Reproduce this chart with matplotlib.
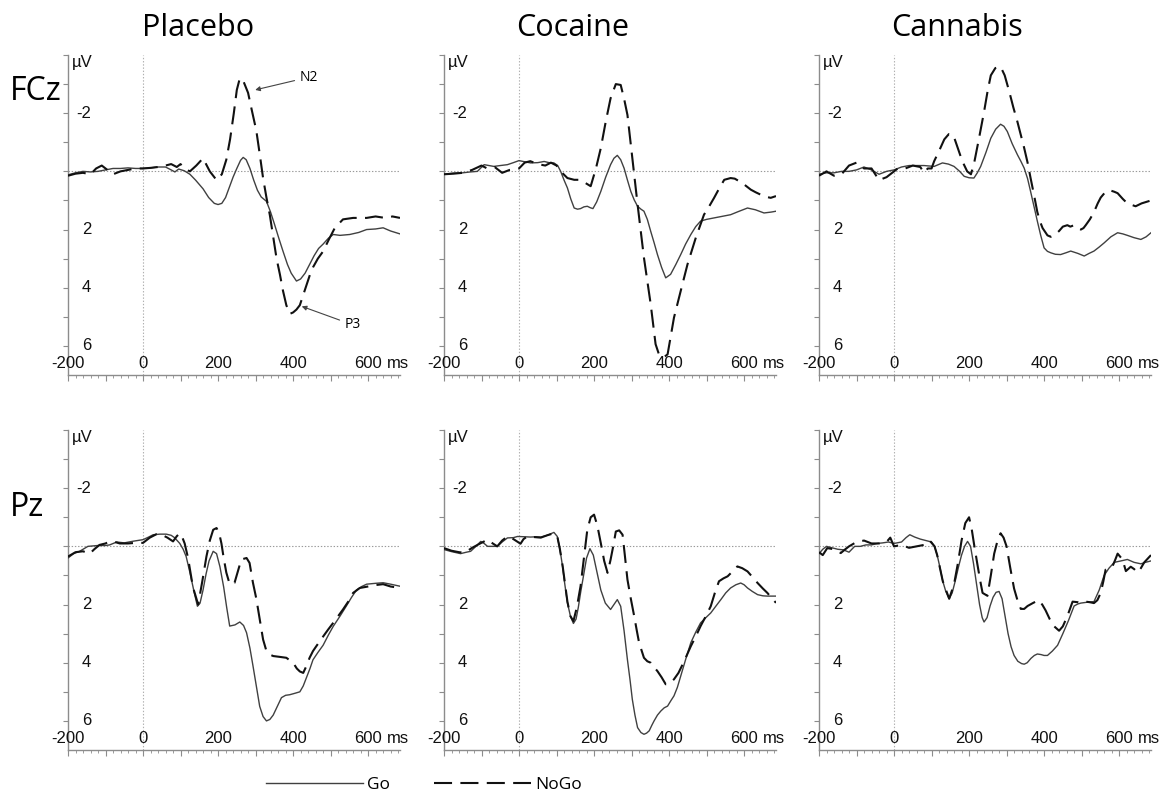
import matplotlib
matplotlib.use("Agg")
import matplotlib.pyplot as plt
import matplotlib.transforms as mtransforms
import numpy as np

# ---------------- data (time in ms, amplitude in µV; negative plotted up) ----------------
COLUMNS = ["Placebo", "Cocaine", "Cannabis"]
ROWS = ["FCz", "Pz"]
X_TICK_VALUES = [-200, 0, 200, 400, 600]
X_TICK_LABELS = ["-200", "0", "200", "400", "600"]
X_UNIT = "ms"
Y_TICK_VALUES = [-2, 2, 4, 6]
Y_TICK_LABELS = ["-2", "2", "4", "6"]
Y_UNIT = "µV"
LEGEND_LABELS = ["Go", "NoGo"]

FCZ_PLACEBO_GO = [(-200,0.12),(-180,0.05),(-160,0.0),(-140,0.02),(-120,0.0),(-100,-0.05),(-80,-0.1),(-60,-0.1),
    (-40,-0.12),(-20,-0.1),(0,-0.1),(20,-0.12),(40,-0.15),(60,-0.15),(75,-0.05),(85,0.02),(95,-0.08),(110,-0.02),
    (125,0.1),(140,0.3),(160,0.6),(175,0.9),(190,1.1),(200,1.14),(210,1.1),(220,0.9),(230,0.55),(240,0.2),(250,-0.1),
    (260,-0.38),(267,-0.48),(275,-0.4),(285,-0.1),(295,0.3),(305,0.65),(315,0.88),(329,1.03),(340,1.4),(350,1.8),
    (362,2.3),(373,2.74),(385,3.2),(395,3.5),(409,3.77),(420,3.7),(432,3.5),(444,3.2),(456,2.9),(468,2.65),(480,2.5),
    (494,2.3),(507,2.17),(525,2.2),(551,2.17),(575,2.1),(596,2.0),(620,1.98),(640,1.94),(660,2.05),(685,2.15)]
FCZ_PLACEBO_NOGO = [(-200,0.15),(-180,0.08),(-160,0.05),(-140,0.1),(-125,-0.1),(-110,-0.2),(-95,-0.05),(-80,0.1),
    (-60,0.0),(-40,-0.05),(-20,-0.1),(0,-0.1),(20,-0.12),(40,-0.15),(60,-0.2),(75,-0.25),(90,-0.15),(100,-0.25),
    (110,-0.1),(125,0.0),(142,-0.2),(160,-0.45),(178,0.0),(196,0.3),(210,0.1),(222,-0.4),(232,-1.1),(242,-2.0),
    (250,-2.8),(258,-3.2),(266,-3.15),(280,-2.7),(290,-2.1),(302,-1.4),(311,-0.6),(320,0.23),(329,0.9),(338,1.5),
    (347,2.25),(356,3.0),(365,3.55),(373,4.1),(382,4.6),(391,4.9),(400,4.85),(409,4.75),(418,4.6),(427,4.25),
    (436,3.9),(445,3.55),(453,3.3),(466,3.0),(480,2.75),(495,2.35),(511,1.95),(522,1.8),(533,1.65),(560,1.6),
    (596,1.6),(620,1.55),(645,1.6),(665,1.55),(685,1.6)]

FCZ_COCAINE_GO = [(-200,0.1),(-175,0.06),(-150,0.05),(-130,0.02),(-111,0.0),(-93,-0.23),(-80,-0.2),(-67,-0.17),
    (-50,-0.2),(-31,-0.23),(-15,-0.3),(0,-0.37),(15,-0.33),(31,-0.29),(50,-0.3),(67,-0.34),(80,-0.3),(93,-0.29),
    (103,-0.2),(111,0.0),(120,0.3),(129,0.57),(138,0.95),(147,1.26),(156,1.3),(164,1.28),(173,1.22),(182,1.2),
    (190,1.25),(197,1.28),(207,1.05),(218,0.69),(231,0.2),(244,-0.23),(253,-0.45),(262,-0.55),(271,-0.4),(280,-0.11),
    (289,0.3),(298,0.69),(307,0.98),(316,1.2),(325,1.3),(333,1.37),(342,1.65),(351,2.06),(360,2.45),(369,2.86),
    (380,3.3),(391,3.66),(404,3.54),(418,3.2),(431,2.86),(444,2.5),(458,2.17),(471,1.9),(484,1.71),(500,1.65),
    (520,1.6),(540,1.55),(564,1.49),(585,1.38),(609,1.26),(630,1.32),(653,1.43),(672,1.4),(685,1.37)]
FCZ_COCAINE_NOGO = [(-200,0.1),(-175,0.08),(-150,0.05),(-125,-0.05),(-100,-0.2),(-85,-0.1),(-65,-0.15),(-45,0.05),
    (-25,-0.05),(0,-0.1),(15,-0.3),(30,-0.35),(50,-0.25),(70,-0.2),(85,-0.3),(100,-0.2),(111,0.0),(129,0.23),
    (147,0.29),(162,0.29),(177,0.4),(191,0.51),(205,-0.1),(218,-0.8),(231,-1.7),(244,-2.51),(258,-3.0),(271,-2.97),
    (280,-2.5),(289,-1.94),(302,-0.46),(316,1.14),(333,2.97),(351,4.57),(364,5.94),(373,6.29),(385,6.4),(396,6.29),
    (404,5.7),(413,5.03),(431,4.11),(449,3.2),(471,2.29),(493,1.49),(507,1.2),(520,0.91),(533,0.6),(547,0.29),
    (564,0.23),(575,0.25),(587,0.34),(600,0.45),(618,0.63),(631,0.72),(644,0.8),(660,0.88),(671,0.91),(685,0.85)]

FCZ_CANNABIS_GO = [(-200,0.1),(-180,0.05),(-160,0.05),(-140,0.0),(-120,0.0),(-100,-0.05),(-80,-0.15),(-60,-0.05),
    (-40,0.1),(-20,0.0),(0,-0.05),(20,-0.15),(40,-0.2),(60,-0.2),(80,-0.2),(107,-0.17),(129,-0.29),(145,-0.25),
    (160,-0.17),(175,0.0),(187,0.17),(200,0.22),(213,0.23),(222,0.05),(231,-0.17),(245,-0.65),(258,-1.14),
    (271,-1.45),(284,-1.62),(293,-1.55),(302,-1.37),(315,-0.95),(329,-0.57),(338,-0.35),(347,-0.11),(356,0.25),
    (364,0.69),(373,1.2),(382,1.71),(391,2.2),(400,2.63),(409,2.75),(418,2.8),(430,2.85),(444,2.86),(458,2.8),
    (471,2.74),(490,2.82),(507,2.91),(520,2.82),(533,2.74),(547,2.6),(560,2.46),(578,2.25),(596,2.11),(610,2.15),
    (622,2.2),(640,2.28),(658,2.34),(672,2.25),(685,2.11)]
FCZ_CANNABIS_NOGO = [(-200,0.15),(-180,0.0),(-160,0.15),(-140,0.1),(-120,-0.2),(-100,-0.3),(-80,-0.1),(-60,-0.1),
    (-40,0.3),(-20,0.2),(0,0.0),(10,-0.1),(30,-0.1),(50,-0.2),(70,-0.15),(80,0.05),(90,-0.1),(100,-0.1),
    (107,-0.35),(120,-0.7),(134,-1.1),(146,-1.28),(158,-1.25),(170,-0.8),(182,-0.35),(195,0.0),(205,0.1),
    (213,-0.25),(226,-1.1),(240,-2.05),(250,-2.8),(258,-3.3),(270,-3.55),(284,-3.6),(295,-3.3),(307,-2.75),
    (318,-2.2),(329,-1.7),(338,-1.25),(347,-0.8),(356,-0.3),(364,0.23),(373,0.8),(382,1.4),(390,1.75),(396,1.95),
    (409,2.2),(418,2.25),(427,2.2),(440,2.05),(450,1.9),(462,1.85),(470,1.9),(480,1.85),(490,1.95),(498,2.0),
    (505,1.95),(511,1.85),(522,1.65),(533,1.4),(543,1.1),(551,0.9),(564,0.7),(575,0.65),(587,0.7),(596,0.75),
    (610,0.95),(622,1.1),(644,1.2),(660,1.1),(685,1.0)]

PZ_PLACEBO_GO = [(-200,0.4),(-185,0.25),(-169,0.17),(-147,0.0),(-120,-0.03),(-100,-0.03),(-89,-0.05),(-70,-0.15),
    (-50,-0.12),(-25,-0.18),(0,-0.23),(15,-0.32),(27,-0.4),(45,-0.42),(62,-0.42),(75,-0.38),(84,-0.3),(98,-0.1),
    (107,0.1),(115,0.35),(125,0.9),(135,1.5),(145,2.06),(152,1.95),(160,1.5),(168,0.95),(176,0.5),(187,0.17),
    (196,0.25),(205,0.7),(215,1.4),(223,2.1),(231,2.74),(245,2.7),(258,2.6),(268,2.72),(276,2.97),(285,3.5),
    (293,4.1),(302,4.8),(311,5.5),(320,5.85),(329,6.0),(338,5.95),(347,5.8),(358,5.5),(369,5.2),(380,5.12),
    (391,5.1),(405,5.05),(418,5.0),(427,4.8),(436,4.5),(445,4.2),(453,3.9),(466,3.65),(480,3.4),(494,3.05),
    (507,2.75),(525,2.4),(542,2.05),(556,1.75),(569,1.5),(583,1.38),(596,1.3),(620,1.27),(640,1.25),(660,1.3),
    (685,1.37)]
PZ_PLACEBO_NOGO = [(-200,0.35),(-180,0.2),(-160,0.17),(-142,0.25),(-130,0.1),(-116,-0.05),(-100,-0.1),(-89,-0.17),
    (-75,-0.15),(-62,-0.1),(-40,-0.1),(-20,-0.12),(0,-0.12),(18,-0.3),(36,-0.42),(50,-0.4),(65,-0.3),(80,-0.17),
    (90,-0.35),(98,-0.45),(105,-0.3),(111,-0.1),(120,0.4),(133,1.4),(147,2.0),(158,1.2),(169,0.35),(178,-0.2),
    (187,-0.57),(196,-0.63),(203,-0.45),(209,-0.1),(215,0.4),(222,0.9),(231,1.3),(244,1.25),(253,0.85),(262,0.45),
    (276,0.4),(284,0.57),(293,1.25),(302,1.8),(311,2.5),(320,3.2),(329,3.6),(338,3.72),(347,3.77),(365,3.8),
    (382,3.83),(400,4.0),(410,4.2),(418,4.3),(427,4.35),(436,4.1),(444,3.83),(453,3.6),(462,3.43),(480,3.1),
    (494,2.85),(507,2.63),(520,2.4),(533,2.17),(547,1.9),(560,1.6),(578,1.43),(604,1.37),(620,1.33),(640,1.3),
    (660,1.38),(685,1.43)]

PZ_COCAINE_GO = [(-200,0.11),(-180,0.18),(-156,0.25),(-140,0.2),(-129,0.17),(-115,0.0),(-102,-0.17),(-93,-0.1),
    (-84,0.0),(-70,0.0),(-58,0.0),(-45,-0.15),(-31,-0.29),(-15,-0.3),(-4,-0.34),(15,-0.33),(31,-0.32),(45,-0.33),
    (58,-0.32),(75,-0.38),(93,-0.48),(102,-0.34),(109,0.1),(116,0.69),(122,1.3),(129,1.94),(137,2.4),(145,2.65),
    (152,2.5),(158,2.1),(164,1.6),(172,1.0),(180,0.4),(189,0.08),(198,0.3),(208,0.9),(218,1.5),(230,1.95),
    (244,2.17),(253,2.0),(262,1.83),(271,2.06),(280,2.9),(289,3.9),(296,4.6),(302,5.26),(309,5.8),(316,6.23),
    (325,6.4),(333,6.46),(340,6.42),(347,6.34),(354,6.15),(360,6.0),(369,5.8),(378,5.66),(387,5.55),(396,5.49),
    (405,5.3),(413,5.14),(422,4.85),(431,4.46),(445,3.85),(458,3.31),(471,2.95),(484,2.63),(498,2.45),(511,2.29),
    (525,2.05),(538,1.83),(551,1.6),(564,1.43),(578,1.32),(591,1.26),(600,1.32),(609,1.43),(622,1.55),(636,1.66),
    (650,1.7),(662,1.71),(685,1.71)]
PZ_COCAINE_NOGO = [(-200,0.06),(-180,0.15),(-160,0.2),(-145,0.22),(-125,0.05),(-102,-0.11),(-84,-0.23),(-70,-0.1),
    (-58,0.0),(-45,-0.2),(-31,-0.34),(-15,-0.25),(4,-0.09),(12,-0.25),(22,-0.34),(40,-0.32),(58,-0.3),(75,-0.38),
    (93,-0.45),(102,-0.34),(109,0.1),(116,0.65),(129,1.9),(137,2.4),(145,2.57),(154,2.1),(164,1.37),(173,0.4),
    (182,-0.57),(191,-1.0),(200,-1.09),(209,-0.7),(218,-0.11),(227,0.5),(236,0.91),(244,0.46),(251,0.0),
    (258,-0.51),(267,-0.55),(276,-0.4),(282,0.3),(289,1.14),(298,1.8),(307,2.4),(314,2.9),(320,3.31),(333,3.83),
    (342,3.95),(351,4.0),(360,4.15),(369,4.29),(380,4.5),(391,4.74),(402,4.7),(413,4.57),(425,4.35),(436,4.06),
    (447,3.75),(458,3.43),(471,3.1),(484,2.74),(498,2.4),(511,2.06),(522,1.6),(533,1.2),(545,1.1),(556,1.03),
    (570,0.85),(582,0.69),(595,0.75),(609,0.86),(622,1.05),(636,1.26),(650,1.45),(662,1.6),(675,1.8),(685,1.94)]

PZ_CANNABIS_GO = [(-200,0.25),(-190,0.1),(-180,0.0),(-165,0.05),(-150,0.1),(-135,0.12),(-120,0.2),(-105,0.0),
    (-90,0.0),(-75,-0.05),(-60,-0.05),(-45,-0.1),(-30,-0.12),(-15,-0.15),(0,-0.1),(20,-0.15),(32,-0.3),(42,-0.4),
    (55,-0.32),(70,-0.25),(85,-0.2),(100,-0.15),(108,0.0),(115,0.3),(122,0.7),(130,1.2),(138,1.55),(147,1.8),
    (155,1.6),(163,1.2),(172,0.7),(180,0.3),(188,0.0),(196,-0.17),(204,0.0),(212,0.6),(220,1.3),(228,2.0),
    (235,2.45),(240,2.6),(248,2.45),(256,2.05),(264,1.75),(272,1.58),(280,1.55),(288,1.8),(296,2.4),(304,3.0),
    (312,3.45),(320,3.75),(330,3.95),(340,4.03),(347,4.05),(355,4.0),(365,3.85),(374,3.75),(382,3.7),(392,3.72),
    (400,3.75),(409,3.75),(422,3.6),(436,3.4),(450,3.0),(465,2.55),(480,2.05),(490,1.98),(498,1.95),(515,1.92),
    (533,1.9),(547,1.5),(560,1.0),(573,0.75),(587,0.55),(605,0.5),(622,0.45),(640,0.55),(658,0.6),(670,0.55),
    (685,0.5)]
PZ_CANNABIS_NOGO = [(-200,0.2),(-190,0.3),(-178,0.06),(-160,0.1),(-142,0.23),(-130,0.1),(-120,0.0),(-100,-0.15),
    (-80,-0.2),(-60,-0.1),(-40,-0.1),(-20,-0.15),(-10,-0.3),(0,0.0),(20,-0.05),(40,0.05),(60,0.0),(80,-0.05),
    (95,-0.2),(108,0.0),(115,0.3),(130,1.2),(147,1.8),(160,1.3),(170,0.6),(180,-0.2),(190,-0.8),(200,-1.0),
    (207,-0.6),(213,-0.1),(222,0.6),(230,1.2),(236,1.6),(249,1.7),(258,1.0),(267,0.25),(276,-0.2),(284,-0.45),
    (292,-0.3),(300,0.0),(310,0.75),(320,1.45),(329,1.85),(338,2.15),(347,2.15),(356,2.05),(370,1.95),(385,1.85),
    (395,2.0),(404,2.2),(415,2.5),(427,2.75),(440,2.9),(450,2.75),(462,2.4),(476,1.9),(490,1.92),(498,1.95),
    (511,1.9),(522,1.92),(533,1.95),(542,1.85),(551,1.6),(558,1.2),(564,0.8),(573,0.72),(582,0.7),(590,0.45),
    (596,0.25),(609,0.45),(618,0.85),(631,0.7),(640,0.78),(649,0.9),(658,0.75),(667,0.55),(685,0.3)]

SERIES = {
    ("FCz", "Placebo"): (FCZ_PLACEBO_GO, FCZ_PLACEBO_NOGO),
    ("FCz", "Cocaine"): (FCZ_COCAINE_GO, FCZ_COCAINE_NOGO),
    ("FCz", "Cannabis"): (FCZ_CANNABIS_GO, FCZ_CANNABIS_NOGO),
    ("Pz", "Placebo"): (PZ_PLACEBO_GO, PZ_PLACEBO_NOGO),
    ("Pz", "Cocaine"): (PZ_COCAINE_GO, PZ_COCAINE_NOGO),
    ("Pz", "Cannabis"): (PZ_CANNABIS_GO, PZ_CANNABIS_NOGO),
}

# ---------------- layout / style ----------------
W, H = 1163, 796
plt.rcParams["lines.scale_dashes"] = False
fig = plt.figure(figsize=(W / 100, H / 100), dpi=100)

XLIM = (-200, 685)
YLIM = (-4, 7)
COL_LEFT = [68, 444, 819]
AX_W = 332
ROW_BOX = {"FCz": (55, 375), "Pz": (430, 750)}
AXIS_COLOR = "#8c8c8c"
GO_COLOR = "#404040"
NOGO_COLOR = "#111111"
NOGO_DASH = (0, (13, 6))
TICK_FONT = "Liberation Sans"
LABEL_FONT = "Open Sans"
TICK_SIZE = 12

go_handle = nogo_handle = None
axes = {}
for row in ROWS:
    top, bot = ROW_BOX[row]
    for ci, col in enumerate(COLUMNS):
        ax = fig.add_axes([COL_LEFT[ci] / W, (H - bot) / H, AX_W / W, (bot - top) / H])
        axes[(row, col)] = ax
        ax.set_xlim(*XLIM)
        ax.set_ylim(YLIM[1], YLIM[0])
        ax.patch.set_alpha(0)
        for s in ("top", "right"):
            ax.spines[s].set_visible(False)
        for s in ("left", "bottom"):
            ax.spines[s].set_color(AXIS_COLOR)
            ax.spines[s].set_linewidth(1.0)
        ax.set_yticks(np.arange(-4, 7, 1))
        ax.set_yticklabels([])
        ax.set_xticks(np.arange(-200, 686, 100))
        ax.set_xticks(np.arange(-200, 686, 20), minor=True)
        ax.set_xticklabels([])
        ax.tick_params(axis="y", direction="out", length=3.5, width=0.8, color=AXIS_COLOR)
        ax.tick_params(axis="x", which="major", direction="out", length=4, width=0.8, color=AXIS_COLOR)
        ax.tick_params(axis="x", which="minor", direction="out", length=2.2, width=0.6, color=AXIS_COLOR)

        ax.axhline(0, color="#9a9a9a", lw=0.8, ls=(0, (1, 1.3)), zorder=1)
        ax.axvline(0, color="#b0b0b0", lw=0.8, ls=(0, (1, 1.3)), zorder=1)

        go, nogo = SERIES[(row, col)]
        tg, vg = zip(*go)
        tn, vn = zip(*nogo)
        (lg,) = ax.plot(tg, vg, color=GO_COLOR, lw=1.0, zorder=3, solid_joinstyle="round")
        (ln,) = ax.plot(tn, vn, color=NOGO_COLOR, lw=1.5, ls=NOGO_DASH, zorder=4)
        go_handle, nogo_handle = lg, ln

        ytrans = mtransforms.blended_transform_factory(ax.transAxes, ax.transData)
        for v, lab in zip(Y_TICK_VALUES, Y_TICK_LABELS):
            ax.text(0.07, v, lab, transform=ytrans, ha="right", va="center",
                    fontsize=TICK_SIZE, family=TICK_FONT, color="#111")
        ax.text(0.012, 1.0, Y_UNIT, transform=ax.transAxes, ha="left", va="top",
                fontsize=TICK_SIZE, family=TICK_FONT, color="#111")
        xtrans = mtransforms.blended_transform_factory(ax.transData, ax.transAxes)
        for t, lab in zip(X_TICK_VALUES, X_TICK_LABELS):
            ax.text(t, 0.012, lab, transform=xtrans, ha="center", va="bottom",
                    fontsize=TICK_SIZE, family=TICK_FONT, color="#111")
        unit_tr = mtransforms.offset_copy(xtrans, fig=fig, x=19, y=0, units="dots")
        ax.text(X_TICK_VALUES[-1], 0.012, X_UNIT, transform=unit_tr, ha="left", va="bottom",
                fontsize=TICK_SIZE, family=TICK_FONT, color="#111")

# annotations on the Placebo FCz panel
ax0 = axes[("FCz", "Placebo")]
arrow = dict(arrowstyle="-|>", color="#444", lw=0.8, mutation_scale=7, shrinkA=2, shrinkB=0)
ax0.annotate("N2", xy=(299, -2.8), xytext=(443, -3.24), ha="center", va="center",
             fontsize=10, family=LABEL_FONT, arrowprops=arrow)
ax0.annotate("P3", xy=(423, 4.64), xytext=(560, 5.28), ha="center", va="center",
             fontsize=10, family=LABEL_FONT, arrowprops=arrow)

# column titles & row labels
COL_CENTERS = [198, 573, 957]
for cx, col in zip(COL_CENTERS, COLUMNS):
    fig.text(cx / W, 1 - 28 / H, col, ha="center", va="center", fontsize=22, family=LABEL_FONT)
ROW_POS = {"FCz": 92, "Pz": 507}
for row in ROWS:
    fig.text(10 / W, 1 - ROW_POS[row] / H, row, ha="left", va="center", fontsize=23, family=LABEL_FONT)

# legend
fig.legend([go_handle, nogo_handle], LEGEND_LABELS, loc="center", ncol=2, frameon=False,
           bbox_to_anchor=(424 / W, 1 - 785 / H), handlelength=5.6, handletextpad=0.25,
           columnspacing=2.5, prop={"family": LABEL_FONT, "size": 12.5})

fig.savefig("out.png", dpi=100)
